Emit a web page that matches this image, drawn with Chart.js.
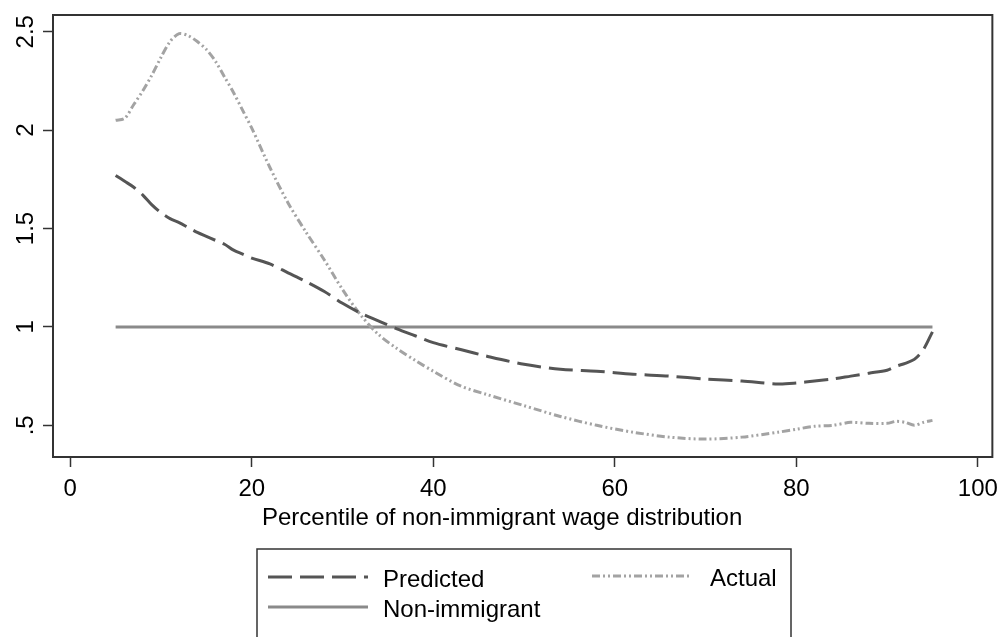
<!DOCTYPE html>
<html>
<head>
<meta charset="utf-8">
<script src="https://cdn.jsdelivr.net/npm/chart.js@4/dist/chart.umd.min.js"></script>
<style>
  html, body { margin: 0; padding: 0; background: #fff; }
  #wrap { width: 1006px; height: 637px; }
</style>
</head>
<body>
<div id="wrap"><canvas id="wageChart" width="1006" height="637"></canvas></div>
<script>
// percentiles of the non-immigrant wage distribution
const percentiles = [5, 6, 7, 8, 9, 10, 11, 12, 13, 14, 15, 16, 17, 18, 19, 20, 22, 24, 26, 28, 30, 32, 34, 36, 38, 40,
    43, 46, 50, 54, 58, 62, 66, 70, 74, 78, 80, 82, 84, 86, 88, 90, 91, 92, 93, 94, 95];

const predicted = [1.77, 1.74, 1.71, 1.67, 1.62, 1.58, 1.55, 1.53, 1.505, 1.48, 1.46, 1.44, 1.42, 1.39, 1.37, 1.35, 1.32, 1.275, 1.23, 1.18, 1.12, 1.07, 1.03, 0.99, 0.955, 0.92,
    0.885, 0.85, 0.81, 0.785, 0.775, 0.76, 0.75, 0.735, 0.725, 0.71, 0.715, 0.725, 0.735, 0.75, 0.765, 0.78, 0.80, 0.815, 0.835, 0.885, 0.975];

const actual = [2.05, 2.06, 2.13, 2.20, 2.28, 2.37, 2.45, 2.49, 2.48, 2.45, 2.41, 2.35, 2.27, 2.19, 2.10, 2.01, 1.81, 1.63, 1.48, 1.34, 1.19, 1.06, 0.96, 0.89, 0.83, 0.775,
    0.70, 0.655, 0.60, 0.545, 0.50, 0.465, 0.44, 0.43, 0.44, 0.465, 0.48, 0.495, 0.50, 0.515, 0.51, 0.51, 0.52, 0.515, 0.50, 0.515, 0.525];

const nonImmigrantX = [5, 95];
const nonImmigrantY = [1, 1];

const xTicks = [0, 20, 40, 60, 80, 100];
const yTicks = [0.5, 1, 1.5, 2, 2.5];
const yTickLabels = ['.5', '1', '1.5', '2', '2.5'];

const FONT = '"Liberation Sans", Arial, Helvetica, sans-serif';

function toPoints(xs, ys) {
    return xs.map((x, i) => ({ x: x, y: ys[i] }));
}

// frame, rotated y labels, axis title and the boxed legend (Stata style)
const stataBits = {
    id: 'stataBits',
    afterDraw(chart) {
        const ctx = chart.ctx;
        const area = chart.chartArea;
        const yScale = chart.scales.y;

        ctx.save();
        ctx.strokeStyle = '#333';
        ctx.lineWidth = 2;
        ctx.strokeRect(area.left, area.top, area.right - area.left, area.bottom - area.top);

        // y tick labels, reading bottom to top
        ctx.fillStyle = '#000';
        ctx.font = '24px ' + FONT;
        ctx.textAlign = 'center';
        ctx.textBaseline = 'alphabetic';
        yTicks.forEach((v, i) => {
            const py = yScale.getPixelForValue(v);
            ctx.save();
            ctx.translate(33, py);
            ctx.rotate(-Math.PI / 2);
            ctx.fillText(yTickLabels[i], 0, 0);
            ctx.restore();
        });

        // x axis title
        ctx.textAlign = 'left';
        ctx.fillText('Percentile of non-immigrant wage distribution', 262, 525);

        // legend box
        ctx.strokeStyle = '#333';
        ctx.lineWidth = 1.5;
        ctx.strokeRect(257, 549, 534, 120);

        const ds = chart.data.datasets;
        const items = [
            { d: ds[0], x: 268, y: 577, tx: 383 },
            { d: ds[1], x: 592, y: 576, tx: 710 },
            { d: ds[2], x: 268, y: 607, tx: 383 }
        ];
        items.forEach(it => {
            ctx.save();
            ctx.strokeStyle = it.d.borderColor;
            ctx.lineWidth = it.d.borderWidth;
            ctx.setLineDash(it.d.borderDash || []);
            ctx.beginPath();
            ctx.moveTo(it.x, it.y);
            ctx.lineTo(it.x + 100, it.y);
            ctx.stroke();
            ctx.restore();
            ctx.fillStyle = '#000';
            ctx.fillText(it.d.label, it.tx, it.y + 10);
        });
        ctx.restore();
    }
};

const ctx = document.getElementById('wageChart').getContext('2d');
const wageChart = new Chart(ctx, {
    type: 'line',
    data: {
        datasets: [
            {
                label: 'Predicted',
                data: toPoints(percentiles, predicted),
                borderColor: '#555555',
                borderWidth: 3,
                borderDash: [24, 8],
                pointRadius: 0,
                tension: 0.3,
                fill: false
            },
            {
                label: 'Actual',
                data: toPoints(percentiles, actual),
                borderColor: '#a3a3a3',
                borderWidth: 3,
                borderDash: [8, 3, 2, 3, 2, 3],
                pointRadius: 0,
                tension: 0.3,
                fill: false
            },
            {
                label: 'Non-immigrant',
                data: toPoints(nonImmigrantX, nonImmigrantY),
                borderColor: '#8a8a8a',
                borderWidth: 3,
                pointRadius: 0,
                fill: false
            }
        ]
    },
    options: {
        responsive: false,
        animation: false,
        devicePixelRatio: 1,
        layout: { padding: { left: 0, top: 15, right: 9, bottom: 0 } },
        plugins: {
            legend: { display: false },
            tooltip: { enabled: false }
        },
        scales: {
            x: {
                type: 'linear',
                min: -1.9,
                max: 101.6,
                afterBuildTicks: scale => { scale.ticks = xTicks.map(v => ({ value: v })); },
                afterFit: scale => { scale.height = 180; },
                border: { display: false },
                grid: { drawOnChartArea: false, drawTicks: true, tickLength: 10, tickColor: '#333', tickWidth: 1.5 },
                ticks: {
                    autoSkip: false,
                    maxRotation: 0,
                    padding: 8,
                    color: '#000',
                    font: { family: FONT, size: 24 }
                }
            },
            y: {
                type: 'linear',
                min: 0.339,
                max: 2.585,
                afterBuildTicks: scale => { scale.ticks = yTicks.map(v => ({ value: v })); },
                afterFit: scale => { scale.width = 53; },
                border: { display: false },
                grid: { drawOnChartArea: false, drawTicks: true, tickLength: 10, tickColor: '#333', tickWidth: 1.5 },
                ticks: { display: false }
            }
        }
    },
    plugins: [stataBits]
});
</script>
</body>
</html>
